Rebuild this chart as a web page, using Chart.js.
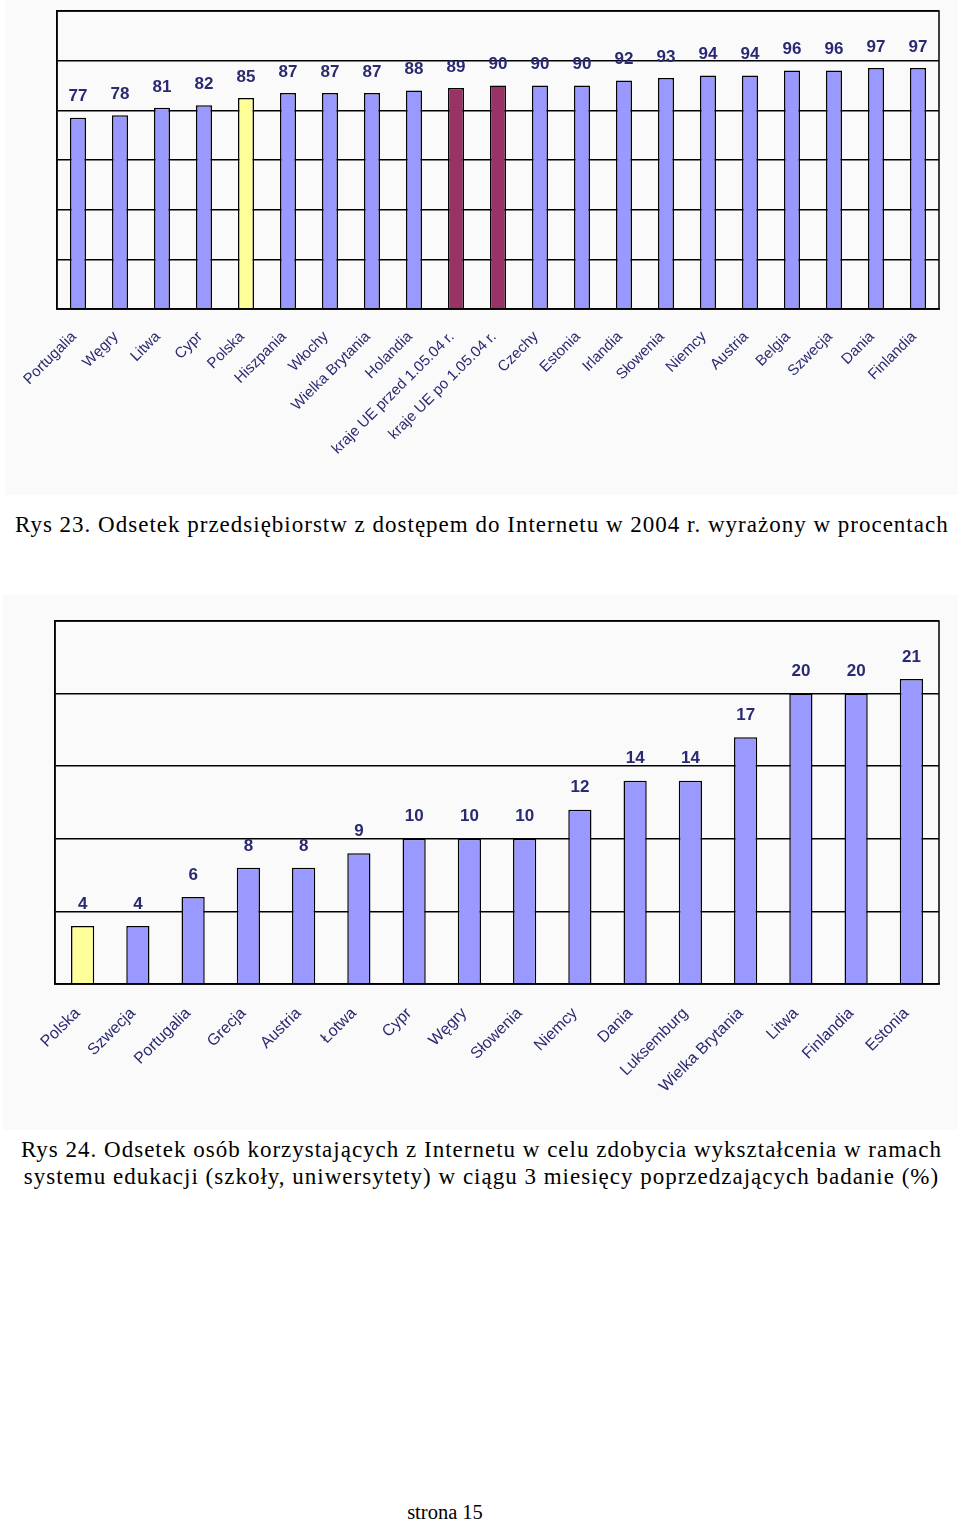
<!DOCTYPE html>
<html>
<head>
<meta charset="utf-8">
<script src="https://cdn.jsdelivr.net/npm/chart.js@4.4.1/dist/chart.umd.min.js"></script>
<style>
  html, body { margin: 0; padding: 0; background: #ffffff; }
  body { width: 960px; height: 1521px; position: relative; overflow: hidden; }
  .wrap { position: absolute; background: #fafafa; }
  .cap { position: absolute; font-family: "Liberation Serif", "Times New Roman", serif; color: #000; white-space: nowrap; }
</style>
</head>
<body>
<div class="wrap" id="w1" style="left:5px; top:0px; width:953px; height:495px;"><canvas id="c1"></canvas></div>
<div class="cap" style="left:15px; top:512px; font-size:23px; line-height:26px; letter-spacing:1px;">Rys 23. Odsetek przedsiębiorstw z dostępem do Internetu w 2004 r. wyrażony w procentach</div>
<div class="wrap" id="w2" style="left:3px; top:595px; width:955px; height:535px;"><canvas id="c2"></canvas></div>
<div class="cap" style="left:0; width:963px; text-align:center; top:1136px; font-size:23px; line-height:27px; letter-spacing:1px;">Rys 24. Odsetek osób korzystających z Internetu w celu zdobycia wykształcenia w ramach<br>systemu edukacji (szkoły, uniwersytety) w ciągu 3 miesięcy poprzedzających badanie (%)</div>
<div class="cap" style="left:0; width:890px; text-align:center; top:1500px; font-size:20.5px; line-height:24px;">strona 15</div>
<script>
// ---- Data: Rys 23 ----
const cats1 = ["Portugalia", "Węgry", "Litwa", "Cypr", "Polska", "Hiszpania", "Włochy", "Wielka Brytania", "Holandia", "kraje UE przed 1.05.04 r.", "kraje UE po 1.05.04 r.", "Czechy", "Estonia", "Irlandia", "Słowenia", "Niemcy", "Austria", "Belgia", "Szwecja", "Dania", "Finlandia"];
const vals1 = [77, 78, 81, 82, 85, 87, 87, 87, 88, 89, 90, 90, 90, 92, 93, 94, 94, 96, 96, 97, 97];
const highlight1 = ["", "", "", "", "pl", "", "", "", "", "eu", "eu", "", "", "", "", "", "", "", "", "", ""];
const yTicks1 = [0, 20, 40, 60, 80, 100, 120];

// ---- Data: Rys 24 ----
const cats2 = ["Polska", "Szwecja", "Portugalia", "Grecja", "Austria", "Łotwa", "Cypr", "Węgry", "Słowenia", "Niemcy", "Dania", "Luksemburg", "Wielka Brytania", "Litwa", "Finlandia", "Estonia"];
const vals2 = [4, 4, 6, 8, 8, 9, 10, 10, 10, 12, 14, 14, 17, 20, 20, 21];
const highlight2 = ["pl", "", "", "", "", "", "", "", "", "", "", "", "", "", "", ""];
const yTicks2 = [0, 5, 10, 15, 20, 25];

const COL = { "": "#9999ff", pl: "#ffff99", eu: "#993366" };
const NAVY = "#2a2a72";

function valueLabels(font, offset) {
  return {
    id: "vl",
    afterDatasetsDraw(chart) {
      const ctx = chart.ctx;
      const meta = chart.getDatasetMeta(0);
      const data = chart.data.datasets[0].data;
      ctx.save();
      ctx.fillStyle = NAVY;
      ctx.font = font;
      ctx.textAlign = "center";
      ctx.textBaseline = "middle";
      meta.data.forEach((el, i) => { ctx.fillText(String(data[i]), el.x, el.y - offset); });
      ctx.restore();
    }
  };
}
const frame = {
  id: "frame",
  afterDraw(chart) {
    const a = chart.chartArea, ctx = chart.ctx;
    ctx.save();
    ctx.strokeStyle = "#000";
    ctx.lineWidth = 1.5;
    ctx.strokeRect(a.left, a.top, a.right - a.left, a.bottom - a.top);
    ctx.restore();
  }
};

function makeChart(id, cats, vals, hl, ticks, o) {
  return new Chart(document.getElementById(id), {
    type: "bar",
    data: {
      labels: cats,
      datasets: [{
        data: vals,
        backgroundColor: hl.map(h => COL[h]),
        borderColor: "#000",
        borderWidth: 1.5,
        borderSkipped: "bottom",
        barPercentage: o.barPct,
        categoryPercentage: 1
      }]
    },
    options: {
      responsive: true,
      maintainAspectRatio: false,
      animation: false,
      events: [],
      layout: { padding: o.pad },
      plugins: { legend: { display: false }, tooltip: { enabled: false } },
      scales: {
        x: {
          grid: { display: false, drawTicks: false },
          border: { display: true, color: "#000", width: 1.5 },
          ticks: {
            autoSkip: false, maxRotation: 45, minRotation: 45,
            color: NAVY, padding: o.tickPad, labelOffset: o.labelOffset,
            font: { family: "'Liberation Sans', Arial, sans-serif", size: o.catSize }
          },
          afterFit(s) { s.height = o.xHeight; s.paddingLeft = 0; s.paddingRight = 0; }
        },
        y: {
          min: ticks[0], max: ticks[ticks.length - 1],
          afterBuildTicks(s) { s.ticks = ticks.map(v => ({ value: v })); },
          grid: { color: "#000", lineWidth: 1.5, drawTicks: false },
          border: { display: true, color: "#000", width: 1.5 },
          ticks: { display: false },
          afterFit(s) { s.width = 0; s.paddingTop = 0; s.paddingBottom = 0; }
        }
      }
    },
    plugins: [valueLabels(o.valFont, o.valOff), frame]
  });
}

makeChart("c1", cats1, vals1, highlight1, yTicks1, {
  barPct: 0.38, pad: { left: 52, top: 11, right: 19, bottom: 0 }, xHeight: 186,
  tickPad: 19, catSize: 15, labelOffset: -4,
  valFont: "bold 17px 'Liberation Sans Narrow', 'Arial Narrow', 'Liberation Sans', sans-serif", valOff: 21
});
makeChart("c2", cats2, vals2, highlight2, yTicks2, {
  barPct: 0.42, pad: { left: 52, top: 26, right: 19, bottom: 0 }, xHeight: 146,
  tickPad: 20, catSize: 16, labelOffset: -5,
  valFont: "bold 17px 'Liberation Sans', Arial, sans-serif", valOff: 22
});
</script>
</body>
</html>
